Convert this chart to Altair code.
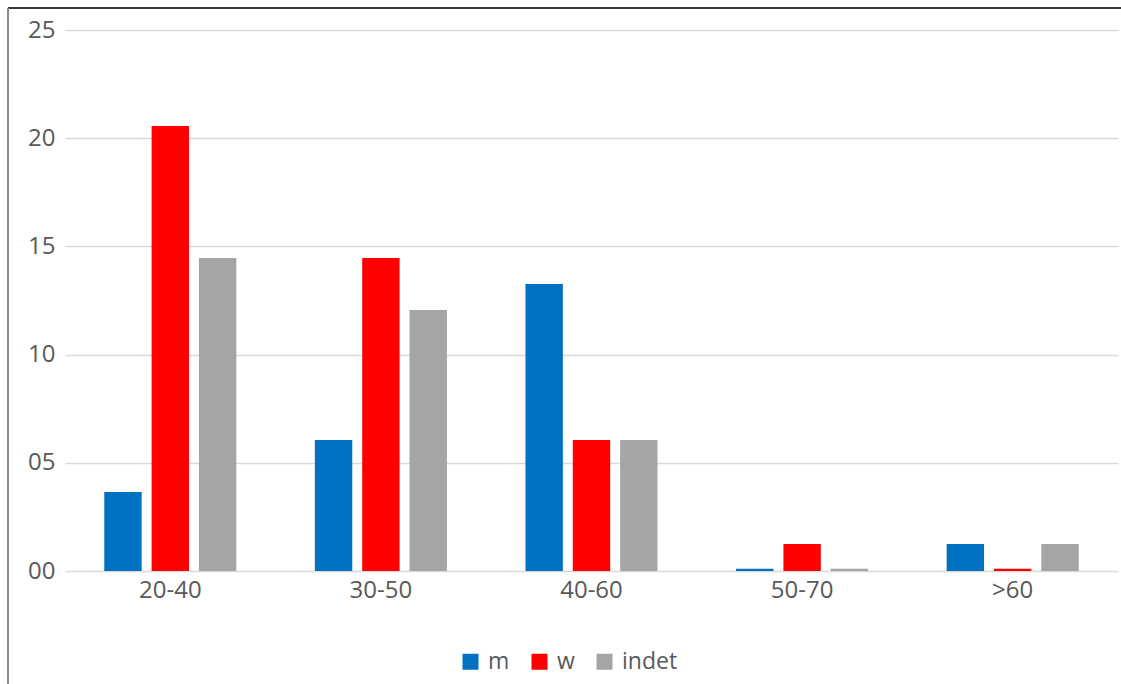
import altair as alt
import pandas as pd

categories = ["20-40", "30-50", "40-60", "50-70", ">60"]
series = ["m", "w", "indet"]
m_values = [3.65, 6.05, 13.26, 0.1, 1.25]
w_values = [20.56, 14.46, 6.05, 1.25, 0.1]
indet_values = [14.46, 12.06, 6.05, 0.1, 1.25]
colors = ["#0070C0", "#FF0000", "#A5A5A5"]
y_ticks = [0, 5, 10, 15, 20, 25]

rows = []
for s, vals in zip(series, [m_values, w_values, indet_values]):
    for c, v in zip(categories, vals):
        rows.append({"cat": c, "series": s, "value": v})
df = pd.DataFrame(rows)

FONT = "Open Sans"
GRAY = "#595959"

bars = alt.Chart(df).mark_bar().encode(
    x=alt.X("cat:N", sort=categories, title=None,
            scale=alt.Scale(paddingInner=0.373, paddingOuter=0.1865),
            axis=alt.Axis(labelAngle=0, labelFont=FONT, labelFontSize=24,
                          labelColor=GRAY, labelPadding=7, domain=False,
                          ticks=False, grid=False)),
    xOffset=alt.XOffset("series:N", sort=series,
                        scale=alt.Scale(paddingInner=0.21, paddingOuter=0)),
    y=alt.Y("value:Q", title=None,
            scale=alt.Scale(domain=[0, 25], nice=False),
            axis=alt.Axis(values=y_ticks, format="02d", labelFont=FONT,
                          labelFontSize=24, labelColor=GRAY, labelPadding=10,
                          domain=False, ticks=False, gridColor="#D9D9D9",
                          gridWidth=1.5)),
    color=alt.Color("series:N", sort=series,
                    scale=alt.Scale(domain=series, range=colors),
                    legend=alt.Legend(title=None, orient="none",
                                      direction="horizontal",
                                      legendX=394, legendY=620,
                                      symbolType="square", symbolSize=256,
                                      symbolStrokeWidth=0,
                                      labelFont=FONT, labelFontSize=23,
                                      labelColor=GRAY, columnPadding=18,
                                      labelOffset=6)),
)

frame_top = alt.Chart(alt.Data(values=[{}])).mark_rule(
    color="#3a3a3a", strokeWidth=2).encode(
    x=alt.value(-57), x2=alt.value(1056), y=alt.value(-22))
frame_left = alt.Chart(alt.Data(values=[{}])).mark_rule(
    color="#8a8a8a", strokeWidth=2).encode(
    x=alt.value(-57), y=alt.value(-22), y2=alt.value(654))

chart = alt.layer(bars, frame_top, frame_left).properties(
    width=1053, height=541,
    autosize=alt.AutoSizeParams(type="none"),
    padding={"left": 65, "top": 30, "right": 3, "bottom": 113},
    background="white",
).configure_view(stroke=None)

chart.save("out.html", embed_options={"renderer": "svg", "actions": False})
